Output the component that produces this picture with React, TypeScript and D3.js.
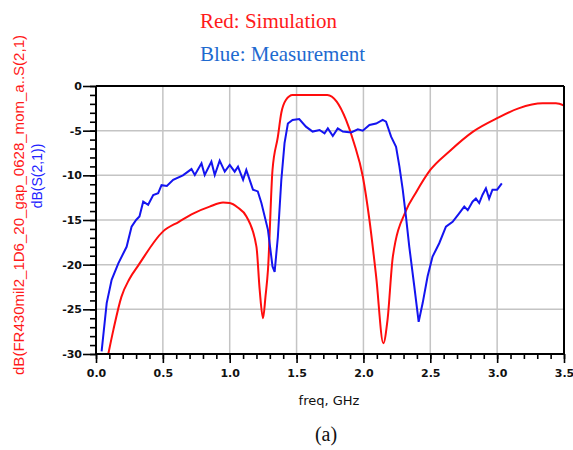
import React, { useEffect, useRef } from "react";
import * as d3 from "d3";

const simFreq = [0.092, 0.13, 0.19, 0.25, 0.32, 0.5, 0.62, 0.73, 0.85, 0.95, 1.0, 1.06, 1.125, 1.2, 1.224, 1.249, 1.268, 1.286, 1.32, 1.36, 1.386, 1.42, 1.47, 1.6, 1.73, 1.8, 1.87, 1.93, 1.995, 2.045, 2.095, 2.149, 2.18, 2.22, 2.32, 2.39, 2.5, 2.64, 2.82, 3.0, 3.16, 3.34, 3.44, 3.5];
const simDb = [-30, -27.3, -23.6, -21.6, -20, -16.3, -15.2, -14.25, -13.5, -13.05, -13.1, -13.6, -14.6, -18, -22.8, -26, -23.5, -20.6, -9.4, -5.7, -3.0, -1.57, -1.0, -1.0, -1.0, -1.75, -3.8, -6.4, -10.1, -15, -21.3, -28.8, -26.2, -19.1, -13.9, -12, -9.4, -7.35, -5.1, -3.6, -2.5, -1.94, -1.94, -2.2];

const measFreq = [0.042, 0.08, 0.117, 0.167, 0.229, 0.266, 0.3, 0.325, 0.353, 0.39, 0.428, 0.465, 0.49, 0.53, 0.577, 0.65, 0.714, 0.739, 0.789, 0.813, 0.863, 0.888, 0.925, 0.963, 1.0, 1.037, 1.062, 1.1, 1.124, 1.174, 1.21, 1.237, 1.286, 1.32, 1.336, 1.36, 1.386, 1.41, 1.435, 1.47, 1.52, 1.57, 1.62, 1.672, 1.709, 1.734, 1.771, 1.808, 1.846, 1.908, 1.958, 1.995, 2.045, 2.095, 2.144, 2.169, 2.207, 2.244, 2.269, 2.294, 2.318, 2.343, 2.381, 2.413, 2.443, 2.48, 2.517, 2.567, 2.617, 2.667, 2.716, 2.754, 2.78, 2.816, 2.841, 2.866, 2.89, 2.916, 2.94, 2.965, 3.0, 3.035];
const measDb = [-29.7, -24.3, -21.7, -19.85, -18, -15.75, -15, -14.6, -12.95, -13.3, -12.2, -12.0, -11.1, -11.2, -10.5, -10.0, -9.3, -9.96, -8.66, -9.96, -8.47, -9.96, -8.36, -9.59, -8.84, -9.59, -9.03, -10.5, -9.4, -11.6, -11.8, -13.1, -16.1, -20.2, -20.8, -16.9, -10.5, -6.4, -4.2, -3.8, -3.7, -4.55, -5.1, -4.93, -5.3, -4.74, -5.6, -4.74, -5.1, -5.2, -4.85, -5.0, -4.37, -4.2, -3.8, -4.0, -5.67, -6.8, -9.0, -11.6, -14.6, -18, -22.5, -26.4, -24.3, -21.3, -19.1, -17.6, -15.75, -15.2, -14.25, -13.5, -13.9, -12.95, -12.6, -13.1, -12.2, -11.45, -12.6, -11.6, -11.6, -10.9];

const xTickLabels = ["0.0", "0.5", "1.0", "1.5", "2.0", "2.5", "3.0", "3.5"];
const yTickLabels = ["0", "-5", "-10", "-15", "-20", "-25", "-30"];

const titleSim = "Red: Simulation";
const titleMeas = "Blue: Measurement";
const yLabelSim = "dB(FR430mil2_1D6_20_gap_0628_mom_a..S(2,1)";
const yLabelMeas = "dB(S(2,1))";
const xLabel = "freq, GHz";
const caption = "(a)";

export default function App() {
  const ref = useRef<SVGSVGElement>(null);

  useEffect(() => {
    const svg = d3.select(ref.current);
    svg.selectAll("*").remove();

    const x = d3.scaleLinear().domain([0, 3.5]).range([96, 564]);
    const y = d3.scaleLinear().domain([-30, 0]).range([354, 86]);
    const xMajor = xTickLabels.map((t) => +t);
    const yMajor = yTickLabels.map((t) => +t);

    const tickFont = "'DejaVu Sans', sans-serif";
    const serif = "'Liberation Serif', 'Times New Roman', serif";

    svg.append("rect").attr("width", 573).attr("height", 450).attr("fill", "#fff");

    svg
      .append("clipPath")
      .attr("id", "plotclip")
      .append("rect")
      .attr("x", 96)
      .attr("y", 85)
      .attr("width", 469)
      .attr("height", 270);

    // grid
    const grid = svg.append("g").attr("stroke", "#c4c4c4").attr("stroke-width", 1.5);
    xMajor.slice(1, -1).forEach((v) =>
      grid.append("line").attr("x1", x(v)).attr("x2", x(v)).attr("y1", y(0)).attr("y2", y(-30))
    );
    yMajor.slice(1, -1).forEach((v) =>
      grid.append("line").attr("x1", x(0)).attr("x2", x(3.5)).attr("y1", y(v)).attr("y2", y(v))
    );

    // curves
    const sim = simFreq.map((f, i) => [f, simDb[i]] as [number, number]);
    const meas = measFreq.map((f, i) => [f, measDb[i]] as [number, number]);
    const simLine = d3
      .line<[number, number]>()
      .x((d) => x(d[0]))
      .y((d) => y(d[1]))
      .curve(d3.curveMonotoneX);
    const measLine = d3
      .line<[number, number]>()
      .x((d) => x(d[0]))
      .y((d) => y(d[1]));
    const curves = svg.append("g").attr("clip-path", "url(#plotclip)");
    curves.append("path").attr("d", simLine(sim)).attr("fill", "none").attr("stroke", "#ff0d0d").attr("stroke-width", 2);
    curves.append("path").attr("d", measLine(meas)).attr("fill", "none").attr("stroke", "#1414f0").attr("stroke-width", 2);

    // axes with d3
    const yMinorAxis = d3
      .axisLeft(y)
      .tickValues(d3.range(-30, 1))
      .tickSize(6)
      .tickFormat(() => "");
    const yMajorAxis = d3
      .axisLeft(y)
      .tickValues(yMajor)
      .tickSize(13)
      .tickPadding(1)
      .tickFormat((d, i) => yTickLabels[i]);
    const xMinorAxis = d3
      .axisBottom(x)
      .tickValues(d3.range(0, 36).map((i) => i / 10))
      .tickSize(5)
      .tickFormat(() => "");
    const xMajorAxis = d3
      .axisBottom(x)
      .tickValues(xMajor)
      .tickSize(9)
      .tickPadding(6)
      .tickFormat((d, i) => xTickLabels[i]);

    const styleAxis = (g: any) => {
      g.select(".domain").remove();
      g.selectAll(".tick line").attr("stroke", "#000").attr("stroke-width", 1.6);
      g.selectAll(".tick text")
        .attr("fill", "#111")
        .attr("font-family", tickFont)
        .attr("font-weight", "bold")
        .attr("font-size", 11);
    };

    svg.append("g").attr("transform", "translate(96,0)").call(yMinorAxis).call(styleAxis);
    svg.append("g").attr("transform", "translate(96,0)").call(yMajorAxis).call(styleAxis);
    svg.append("g").attr("transform", "translate(0,354)").call(xMinorAxis).call(styleAxis);
    svg.append("g").attr("transform", "translate(0,354)").call(xMajorAxis).call(styleAxis);

    // frame
    const frame = svg.append("g").attr("stroke", "#000").attr("stroke-width", 2);
    frame.append("line").attr("x1", x(0)).attr("x2", x(3.5)).attr("y1", y(0)).attr("y2", y(0));
    frame.append("line").attr("x1", x(3.5)).attr("x2", x(3.5)).attr("y1", y(0)).attr("y2", y(-30));
    frame.append("line").attr("x1", x(0)).attr("x2", x(3.5)).attr("y1", y(-30)).attr("y2", y(-30));
    frame.append("line").attr("x1", x(0)).attr("x2", x(0)).attr("y1", y(0)).attr("y2", y(-30));

    // axis titles
    svg
      .append("text")
      .attr("x", 329)
      .attr("y", 405)
      .attr("text-anchor", "middle")
      .attr("font-family", tickFont)
      .attr("font-size", 13)
      .attr("fill", "#111")
      .text(xLabel);
    svg
      .append("text")
      .attr("transform", "translate(24,205) rotate(-90)")
      .attr("text-anchor", "middle")
      .attr("font-family", "'Liberation Sans', Arial, sans-serif")
      .attr("font-size", 14)
      .attr("fill", "#ff1a1a")
      .attr("textLength", 340)
      .attr("lengthAdjust", "spacingAndGlyphs")
      .text(yLabelSim);
    svg
      .append("text")
      .attr("transform", "translate(42,176) rotate(-90)")
      .attr("text-anchor", "middle")
      .attr("font-family", "'Liberation Sans', Arial, sans-serif")
      .attr("font-size", 14)
      .attr("fill", "#2222ff")
      .text(yLabelMeas);

    // titles
    svg.append("text").attr("x", 200).attr("y", 28).attr("font-family", serif).attr("font-size", 21).attr("fill", "#ff1a1a").text(titleSim);
    svg.append("text").attr("x", 200).attr("y", 61).attr("font-family", serif).attr("font-size", 21).attr("fill", "#1e6ad0").text(titleMeas);
    svg
      .append("text")
      .attr("x", 326)
      .attr("y", 441)
      .attr("text-anchor", "middle")
      .attr("font-family", serif)
      .attr("font-size", 20)
      .attr("fill", "#111")
      .text(caption);
  }, []);

  return <svg ref={ref} width={573} height={450} style={{ position: "absolute", left: 0, top: 0 }} />;
}
